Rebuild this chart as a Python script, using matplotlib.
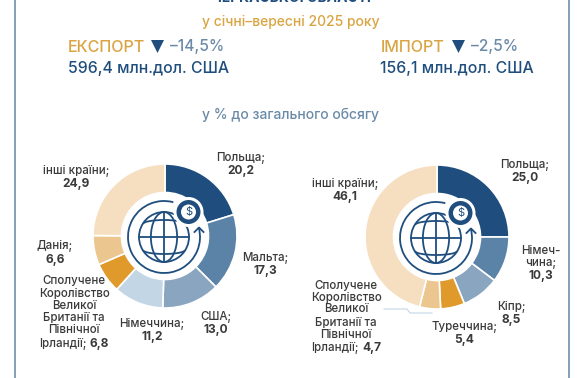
import matplotlib
matplotlib.use('Agg')
import matplotlib.pyplot as plt
import matplotlib.patches as patches
from matplotlib.lines import Line2D

W, H = 580, 378

plt.rcParams['font.family'] = ['Inter', 'DejaVu Sans']

export_names = ["Польща", "Мальта", "США", "Німеччина", "Сполучене Королівство", "Данія", "інші країни"]
export_values = [20.2, 17.3, 13.0, 11.2, 6.8, 6.6, 24.9]
import_names = ["Польща", "Німеччина", "Кіпр", "Туреччина", "Сполучене Королівство", "інші країни"]
import_values = [25.0, 10.3, 8.5, 5.4, 4.7, 46.1]

export_colors = ['#1f4e7e', '#5b83a8', '#8aa5bf', '#c3d6e5', '#e09a2b', '#ecc68f', '#f6dfc0']
import_colors = ['#1f4e7e', '#5b83a8', '#8aa5bf', '#e09a2b', '#ecc68f', '#f6dfc0']

DARK = '#1f4e7e'
GOLD = '#d9a441'
SLATE = '#6b8aa8'
TEXT = '#3a3a3a'


def fmt(v):
    return f"{v:.1f}".replace('.', ',')


def Y(y):
    # pixel row of the reference to data y
    return H - y


fig = plt.figure(figsize=(W / 100, H / 100), dpi=100)
ax = fig.add_axes([0, 0, 1, 1])
ax.set_xlim(0, W)
ax.set_ylim(0, H)
ax.axis('off')


def label(x, y, s, bold=False, size=8.3, ha='center', color=TEXT):
    ax.text(x, Y(y), s, ha=ha, va='center', fontsize=size + (0.3 if bold else 0), color=color,
            fontweight='bold' if bold else 500, zorder=5)


def draw_donut(cx, cy, values, colors):
    ax.pie(values, colors=colors, center=(cx, Y(cy)), radius=72, startangle=90,
           counterclock=False, frame=True,
           wedgeprops=dict(width=28.5, edgecolor='white', linewidth=1.2))


def draw_icon(cx, cy):
    # globe and arrow ring in the donut hole
    gx, gy = cx - 1, Y(cy) - 1
    r = 25
    lw = 1.3
    ax.add_patch(patches.Circle((gx, gy), r, fill=False, ec=DARK, lw=lw, zorder=4))
    ax.add_patch(patches.Ellipse((gx, gy), r * 1.05, 2 * r, fill=False, ec=DARK, lw=lw, zorder=4))
    ax.plot([gx - r, gx + r], [gy, gy], color=DARK, lw=lw, zorder=4)
    ax.plot([gx, gx], [gy - r, gy + r], color=DARK, lw=lw, zorder=4)
    ax.add_patch(patches.Arc((gx, gy + 13), 42, 8, theta1=0, theta2=180, ec=DARK, lw=lw, zorder=4))
    ax.add_patch(patches.Arc((gx, gy - 13), 42, 8, theta1=180, theta2=360, ec=DARK, lw=lw, zorder=4))
    # ring with arrow head
    ax.add_patch(patches.Arc((gx, gy), 72, 72, theta1=75, theta2=375, ec=DARK, lw=lw, zorder=4))
    ax.plot([gx + 30.5, gx + 35, gx + 39.5], [gy + 5, gy + 9.5, gy + 5], color=DARK, lw=lw, zorder=4)
    # coin
    coin = (gx + 24.5, gy + 25)
    ax.add_patch(patches.Circle(coin, 15, fc='white', ec='none', zorder=4))
    ax.add_patch(patches.Circle(coin, 12, fc=DARK, ec='none', zorder=4))
    ax.add_patch(patches.Circle(coin, 7.5, fc='white', ec='none', zorder=4))
    ax.text(coin[0], coin[1], '$', ha='center', va='center', fontsize=8, color=DARK, zorder=5)


# frame
ax.add_patch(patches.Rectangle((14.5, -5), 554, H + 30, fill=False, ec='#6f8fae', lw=1.2))

# header, its top is cut off by the picture edge
label(291, -2, "ЧЕРКАСЬКОЇ ОБЛАСТІ", bold=True, size=9.7, color=DARK)
label(291, 22, "у січні–вересні 2025 року", size=10, color=GOLD)
label(291, 115, "у % до загального обсягу", size=10, color=SLATE)

label(68, 47, "ЕКСПОРТ", size=11.6, ha='left', color=GOLD)
ax.add_patch(patches.Polygon([(151, Y(40)), (164, Y(40)), (157.5, Y(53))], fc=DARK, ec='none'))
label(170, 47, "–14,5%", size=11.2, ha='left', color=SLATE)
label(68, 69, "596,4 млн.дол. США", size=11.4, ha='left', color=DARK)

label(381, 47, "ІМПОРТ", size=11.6, ha='left', color=GOLD)
ax.add_patch(patches.Polygon([(452, Y(40)), (465, Y(40)), (458.5, Y(53))], fc=DARK, ec='none'))
label(471, 47, "–2,5%", size=11.2, ha='left', color=SLATE)
label(380, 69, "156,1 млн.дол. США", size=11.4, ha='left', color=DARK)

# left donut
draw_donut(165, 236, export_values, export_colors)
draw_icon(165, 236)
ax.set_xlim(0, W)
ax.set_ylim(0, H)

label(241, 158, export_names[0] + ";")
label(241, 171, fmt(export_values[0]), bold=True)
label(265, 258, export_names[1] + ";")
label(265, 271, fmt(export_values[1]), bold=True)
label(216, 317, export_names[2] + ";")
label(216, 330, fmt(export_values[2]), bold=True)
label(152, 324, export_names[3] + ";")
label(152, 337, fmt(export_values[3]), bold=True)
for y, s in zip([281, 294, 306, 318, 330], ["Сполучене", "Королівство", "Великої", "Британії та", "Північної"]):
    label(74, y, s)
label(86, 344, "Ірландії;", ha='right')
label(90, 344, fmt(export_values[4]), bold=True, ha='left')
label(55, 246, export_names[5] + ";")
label(55, 260, fmt(export_values[5]), bold=True)
label(76, 171, export_names[6] + ";")
label(76, 184, fmt(export_values[6]), bold=True)

# right donut
draw_donut(437, 237, import_values, import_colors)
draw_icon(437, 237)
ax.set_xlim(0, W)
ax.set_ylim(0, H)

label(525, 165, import_names[0] + ";")
label(525, 178, fmt(import_values[0]), bold=True)
label(541, 251, "Німеч-")
label(541, 263, "чина;")
label(541, 276, fmt(import_values[1]), bold=True)
label(511, 307, import_names[2] + ";")
label(511, 320, fmt(import_values[2]), bold=True)
label(464, 327, import_names[3] + ";")
label(464, 340, fmt(import_values[3]), bold=True)
for y, s in zip([286, 298, 309, 323, 335], ["Сполучене", "Королівство", "Великої", "Британії та", "Північної"]):
    label(346, y, s)
label(358, 348, "Ірландії;", ha='right')
label(362, 348, fmt(import_values[4]), bold=True, ha='left')
label(345, 184, import_names[5] + ";")
label(345, 197, fmt(import_values[5]), bold=True)

ax.add_line(Line2D([384, 407, 410, 432], [Y(309), Y(309), Y(313), Y(313)], color='#c3d6e5', lw=0.8))

fig.savefig('out.png', dpi=100)
plt.close()
